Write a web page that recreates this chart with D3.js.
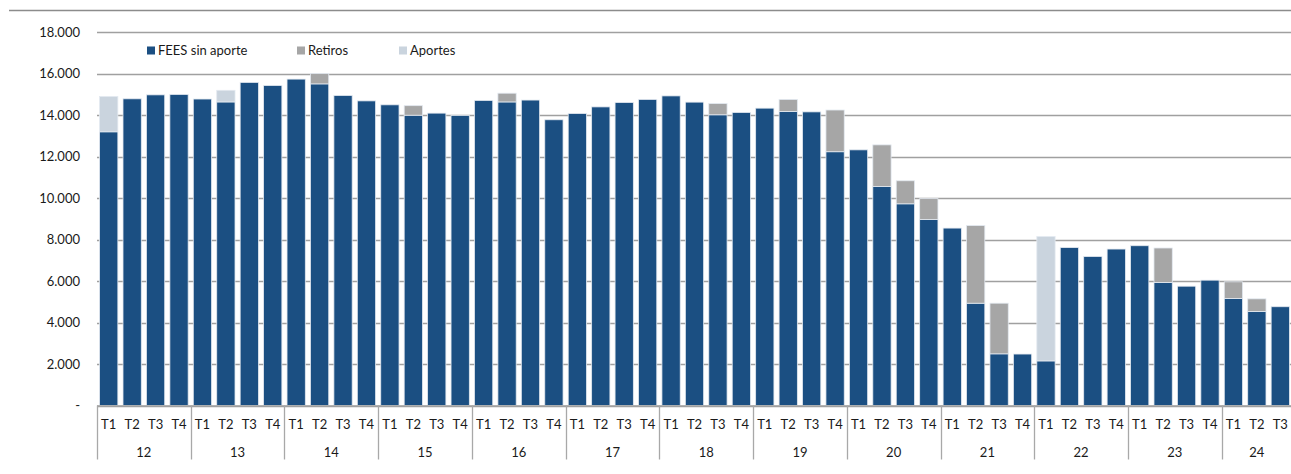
<!DOCTYPE html>
<html>
<head>
<meta charset="utf-8">
<script src="https://cdn.jsdelivr.net/npm/d3@7"></script>
<style>
  body { margin: 0; background: #fff; }
  svg { display: block; font-family: Lato, "Open Sans", sans-serif; }
</style>
</head>
<body>
<div id="chart"></div>
<script>
var years = ['12','13','14','15','16','17','18','19','20','21','22','23','24'];
var quarters = ['T1','T2','T3','T4'];

// FEES sin aporte, per quarter from 2012 T1 to 2024 T3
var fees = [13190,14780,14970,14990, 14770,14630,15570,15420, 15730,15500,14940,14680,
	14490,13990,14090,13980, 14700,14630,14720,13770, 14070,14390,14600,14750,
	14920,14620,14010,14120, 14330,14170,14150,12230, 12320,10550,9720,8960,
	8550,4930,2490,2480, 2150,7610,7180,7540, 7700,5930,5750,6040, 5160,4530,4760];
var retiros = [0,0,0,0, 0,0,0,0, 0,500,0,0,
	0,460,0,0, 0,420,0,0, 0,0,0,0,
	0,0,540,0, 0,580,0,2010, 0,2010,1110,1010,
	0,3740,2440,0, 0,0,0,0, 0,1660,0,0, 800,610,0];
var aportes = [1700,0,0,0, 0,560,0,0, 0,0,0,0,
	0,0,0,0, 0,0,0,0, 0,0,0,0,
	0,0,0,0, 0,0,0,0, 0,0,0,0,
	0,0,0,0, 5990,0,0,0, 0,0,0,0, 0,0,0];
var yTicks = [0,2000,4000,6000,8000,10000,12000,14000,16000,18000];

var seriesNames = ['FEES sin aporte','Retiros','Aportes'];
var colors = ['#1b4f82','#a6a6a6','#cad4de'];

var margin = {top: 32, right: 0, bottom: 68, left: 97};
var W = 1291, H = 474;
var width = 1195, height = 405.5 - margin.top;

var rows = [];
for (var i=0; i<fees.length; i++) {
	var y = years[Math.floor(i/4)], q = quarters[i%4];
	rows.push({key: y+'-'+q, year: y, q: q, fees: fees[i], retiros: retiros[i], aportes: aportes[i]});
}

var stack = d3.stack().keys(['fees','retiros','aportes'])(rows);

var xScale = d3.scaleBand()
	.domain(rows.map(function(d){ return d.key; }))
	.range([0, width])
	.paddingInner(0.22)
	.paddingOuter(0.11);

var yScale = d3.scaleLinear()
	.domain([0, 18000])
	.range([height, 0]);

var svg = d3.select('#chart').append('svg')
	.attr('width', W)
	.attr('height', H);

// top rule
svg.append('line')
	.attr('x1', 9).attr('x2', W)
	.attr('y1', 10.5).attr('y2', 10.5)
	.style('stroke', '#8c8c8c').style('stroke-width', 1.3);

var g = svg.append('g')
	.attr('transform', 'translate(' + margin.left + ',' + margin.top + ')');

// gridlines
g.selectAll('.grid').data(yTicks).enter().append('line')
	.attr('x1', 0).attr('x2', width)
	.attr('y1', function(d){ return Math.round(yScale(d)) + 0.5; })
	.attr('y2', function(d){ return Math.round(yScale(d)) + 0.5; })
	.style('stroke', '#a0a0a0').style('stroke-width', 1.3);

// y labels
g.selectAll('.ylab').data(yTicks).enter().append('text')
	.attr('x', -17)
	.attr('y', function(d){ return yScale(d); })
	.attr('dy', '0.35em')
	.attr('text-anchor', 'end')
	.style('font-size', '13px')
	.style('fill', '#1a1a1a')
	.text(function(d){ return d === 0 ? '-' : d3.format(',')(d).replace(/,/g, '.'); });

// bars
g.selectAll('.layer').data(stack).enter().append('g')
	.style('fill', function(d, i){ return colors[i]; })
	.selectAll('rect').data(function(d){ return d.filter(function(p){ return p[1] > p[0]; }); })
	.enter().append('rect')
		.attr('x', function(d){ return xScale(d.data.key); })
		.attr('width', xScale.bandwidth())
		.attr('y', function(d){ return yScale(d[1]); })
		.attr('height', function(d){ return yScale(d[0]) - yScale(d[1]); })
		.style('stroke', '#e3e9f0')
		.style('stroke-width', 0.8);

// x axis
g.append('line')
	.attr('x1', 0).attr('x2', width)
	.attr('y1', height + 0.5).attr('y2', height + 0.5)
	.style('stroke', '#a0a0a0').style('stroke-width', 1.3);

g.selectAll('.qlab').data(rows).enter().append('text')
	.attr('x', function(d){ return xScale(d.key) + xScale.bandwidth()/2; })
	.attr('y', height + 19)
	.attr('dy', '0.35em')
	.attr('text-anchor', 'middle')
	.style('font-size', '13px')
	.style('fill', '#1a1a1a')
	.text(function(d){ return d.q; });

var step = xScale.step();
var yearGroups = years.map(function(y){
	var idx = rows.filter(function(r){ return r.year === y; });
	return {year: y, x0: xScale(idx[0].key) - step*xScale.paddingInner()/2,
		x1: xScale(idx[idx.length-1].key) + xScale.bandwidth() + step*xScale.paddingInner()/2};
});

g.selectAll('.sep').data(yearGroups).enter().append('line')
	.attr('x1', function(d){ return Math.round(d.x0) + 0.5; })
	.attr('x2', function(d){ return Math.round(d.x0) + 0.5; })
	.attr('y1', height).attr('y2', height + 54)
	.style('stroke', '#a8a8a8').style('stroke-width', 1.3);

g.selectAll('.ylabx').data(yearGroups).enter().append('text')
	.attr('x', function(d){ return (d.x0 + d.x1)/2; })
	.attr('y', height + 46.5)
	.attr('dy', '0.35em')
	.attr('text-anchor', 'middle')
	.style('font-size', '13px')
	.style('fill', '#1a1a1a')
	.text(function(d){ return d.year; });

// legend
var legX = [147, 297, 399];
var leg = svg.selectAll('.leg').data(seriesNames).enter().append('g')
	.attr('transform', function(d, i){ return 'translate(' + legX[i] + ',50.5)'; });
leg.append('rect')
	.attr('x', 0).attr('y', -4)
	.attr('width', 8).attr('height', 8)
	.style('fill', function(d, i){ return colors[i]; });
leg.append('text')
	.attr('x', 11)
	.attr('dy', '0.35em')
	.style('font-size', '13px')
	.style('fill', '#1a1a1a')
	.text(function(d){ return d; });
</script>
</body>
</html>
